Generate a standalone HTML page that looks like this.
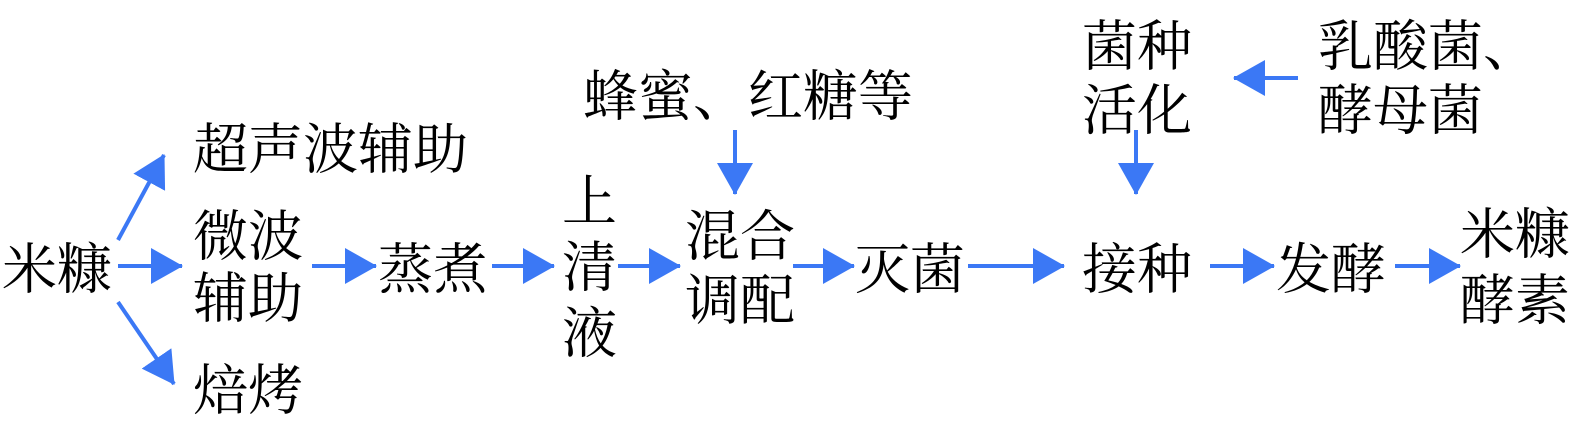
<!DOCTYPE html>
<html><head><meta charset="utf-8"><style>
html,body{margin:0;padding:0;background:#fff;}
svg{display:block;}
text{font-family:"Noto Serif CJK SC","Liberation Serif",serif;font-size:55px;fill:#000;dominant-baseline:central;}
</style></head><body>
<svg width="1575" height="435" viewBox="0 0 1575 435">
<defs>
<marker id="a" markerUnits="userSpaceOnUse" markerWidth="32" markerHeight="36" refX="31" refY="18" orient="auto">
<path d="M0,0 L32,18 L0,36 Z" fill="#3b78f5"/>
</marker>
</defs>
<g stroke="#3b78f5" stroke-width="4" fill="none">
<line x1="118" y1="240" x2="164" y2="155" marker-end="url(#a)"/>
<line x1="118" y1="266" x2="182" y2="266" marker-end="url(#a)"/>
<line x1="118" y1="302" x2="174" y2="384" marker-end="url(#a)"/>
<line x1="312" y1="266" x2="376" y2="266" marker-end="url(#a)"/>
<line x1="492" y1="266" x2="554" y2="266" marker-end="url(#a)"/>
<line x1="618" y1="266" x2="680" y2="266" marker-end="url(#a)"/>
<line x1="735" y1="130" x2="735" y2="194" marker-end="url(#a)"/>
<line x1="793" y1="266" x2="854" y2="266" marker-end="url(#a)"/>
<line x1="968" y1="266" x2="1064" y2="266" marker-end="url(#a)"/>
<line x1="1136" y1="130" x2="1136" y2="194" marker-end="url(#a)"/>
<line x1="1298" y1="78" x2="1234" y2="78" marker-end="url(#a)"/>
<line x1="1210" y1="266" x2="1274" y2="266" marker-end="url(#a)"/>
<line x1="1395" y1="266" x2="1460" y2="266" marker-end="url(#a)"/>
</g>
<text x="2" y="265">米糠</text>
<text x="193" y="145">超声波辅助</text>
<text x="193" y="232">微波</text>
<text x="193" y="294">辅助</text>
<text x="193" y="386">焙烤</text>
<text x="378" y="265">蒸煮</text>
<text x="562" y="197">上</text>
<text x="562" y="263">清</text>
<text x="562" y="329">液</text>
<text x="583" y="92">蜂蜜、红糖等</text>
<text x="685" y="232">混合</text>
<text x="685" y="296">调配</text>
<text x="855" y="265">灭菌</text>
<text x="1082" y="42">菌种</text>
<text x="1082" y="106">活化</text>
<text x="1318" y="42">乳酸菌、</text>
<text x="1318" y="106">酵母菌</text>
<text x="1082" y="265">接种</text>
<text x="1276" y="265">发酵</text>
<text x="1460" y="230">米糠</text>
<text x="1460" y="296">酵素</text>
</svg>
</body></html>
